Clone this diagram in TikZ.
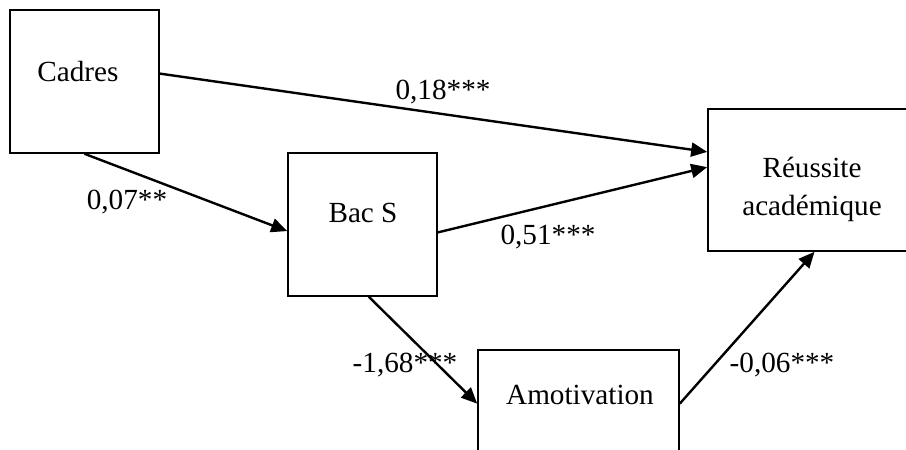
\documentclass[tikz,border=0pt]{standalone}
\usepackage{fontspec}
\setmainfont{Liberation Serif}
\usetikzlibrary{arrows.meta,calc}
\definecolor{cInk}{HTML}{000000}
\tikzset{
  >={Triangle[length=8pt,width=7pt]},
  mbox/.style={draw=cInk,line width=0.8pt,inner sep=0pt,
               minimum width=74.5pt,minimum height=71.5pt},
  mtxt/.style={font=\fontsize{14.6}{19}\selectfont,align=center,inner sep=0pt},
  mcoef/.style={mtxt},
  marr/.style={->,line width=1.2pt,cInk},
}

\begin{document}
\begin{tikzpicture}[x=0.5pt,y=0.5pt]
    \useasboundingbox (0,0) rectangle (906,450);
    \clip (0,0) rectangle (906,450);
    % boxes
    \node[mbox] (cad) at (84.5,368.5) {};
    \node[mbox] (bac) at (362.5,225.5) {};
    \node[mbox,minimum width=104pt,minimum height=71pt] (rea) at (812,270) {};
    \node[mbox,minimum width=100.5pt] (amo) at (578.5,28.5) {};
    \node[mtxt] (tcad) at (78,378) {Cadres};
    \node[mtxt] (tbac) at (363,237) {Bac S};
    \node[mtxt] (trea) at (812,261) {Réussite\\académique};
    \node[mtxt] (tamo) at (580,55) {Amotivation};
    % paths
    \draw[marr] (cad.6.5) -- (rea.165);
    \draw[marr] (cad.south) -- (bac.185);
    \draw[marr] (bac.354) -- (rea.173);
    \draw[marr] (bac.275) -- (amo.170);
    \draw[marr] (amo.10) -- (rea.272);
    \node[mcoef] (kcr) at (443,358) {0,18***};
    \node[mcoef] (kcb) at (127,248) {0,07**};
    \node[mcoef] (kbr) at (548,213) {0,51***};
    \node[mcoef] (kba) at (405,85) {-1,68***};
    \node[mcoef] (kar) at (782,85) {-0,06***};
  \end{tikzpicture}
\end{document}
